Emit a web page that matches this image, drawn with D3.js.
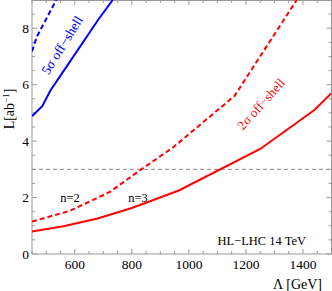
<!DOCTYPE html>
<html>
<head>
<meta charset="utf-8">
<script src="https://cdn.jsdelivr.net/npm/d3@7"></script>
<style>
  body { margin: 0; background: #fff; }
  svg { display: block; font-family: "Liberation Serif", "DejaVu Serif", serif; }
</style>
</head>
<body>
<script>
const width = 332;
const height = 291;
const margin = { top: 0, right: 0.5, bottom: 37, left: 32 };

// [Lambda (GeV), L (ab^-1)]
const red3 = [[450, 0.8], [560, 0.98], [680, 1.26], [800, 1.63], [965, 2.25], [1250, 3.72], [1440, 5.1], [1500, 5.7]];
const red2 = [[450, 1.15], [583, 1.53], [723, 2.2], [829, 2.97], [945, 3.78], [1160, 5.6], [1378, 9]];
const blue3 = [[450, 4.88], [486, 5.24], [515, 5.8], [570, 6.62], [682, 8.3], [733, 9]];
const blue2 = [[450, 7.18], [467, 7.7], [535, 9]];
const xTicks = [600, 800, 1000, 1200, 1400];
const yTicks = [0, 2, 4, 6, 8];
const refL = 3;

const x = d3.scaleLinear().domain([450, 1500]).range([margin.left, width - margin.right]);
const y = d3.scaleLinear().domain([0, 9]).range([height - margin.bottom, margin.top]);

const svg = d3.select("body").append("svg").attr("width", width).attr("height", height);

svg.append("defs").append("clipPath").attr("id", "clip")
  .append("rect")
  .attr("x", x.range()[0]).attr("y", y.range()[1])
  .attr("width", x.range()[1] - x.range()[0])
  .attr("height", y.range()[0] - y.range()[1]);

const frame = "#999";
const xMinor = d3.range(450, 1501, 50);
const yMinor = d3.range(0, 9.01, 0.5);

// ticks on all four sides, pointing inward
const tickG = svg.append("g").attr("stroke", frame).attr("stroke-width", 1);
xMinor.forEach((v) => {
  const len = xTicks.includes(v) ? 5 : 3;
  tickG.append("line").attr("x1", x(v)).attr("x2", x(v)).attr("y1", y(0)).attr("y2", y(0) - len);
  tickG.append("line").attr("x1", x(v)).attr("x2", x(v)).attr("y1", y(9)).attr("y2", y(9) + len);
});
yMinor.forEach((v) => {
  const len = yTicks.includes(v) ? 5 : 3;
  tickG.append("line").attr("y1", y(v)).attr("y2", y(v)).attr("x1", x(450)).attr("x2", x(450) + len);
  tickG.append("line").attr("y1", y(v)).attr("y2", y(v)).attr("x1", x(1500)).attr("x2", x(1500) - len);
});

svg.append("rect")
  .attr("x", x(450)).attr("y", y(9) + 0.5)
  .attr("width", x(1500) - x(450)).attr("height", y(0) - y(9) - 0.5)
  .attr("fill", "none").attr("stroke", frame);

svg.append("g").selectAll("text").data(xTicks).enter().append("text")
  .attr("x", (d) => x(d)).attr("y", y(0) + 15)
  .attr("text-anchor", "middle").style("font-size", "13.5px").text((d) => d);

svg.append("g").selectAll("text").data(yTicks).enter().append("text")
  .attr("x", x(450) - 3).attr("y", (d) => y(d) + 4.5)
  .attr("text-anchor", "end").style("font-size", "13.5px").text((d) => d);

svg.append("line")
  .attr("x1", x(450)).attr("x2", x(1500)).attr("y1", y(refL)).attr("y2", y(refL))
  .attr("stroke", "#888").attr("stroke-dasharray", "4,3");

const line = d3.line().x((d) => x(d[0])).y((d) => y(d[1]));
const curves = [
  { data: red3, color: "#f00", dash: null },
  { data: red2, color: "#f00", dash: "5,3" },
  { data: blue3, color: "#00f", dash: null },
  { data: blue2, color: "#00f", dash: "5,3" },
];
svg.append("g").attr("clip-path", "url(#clip)")
  .selectAll("path").data(curves).enter().append("path")
  .attr("d", (d) => line(d.data))
  .attr("fill", "none")
  .attr("stroke", (d) => d.color)
  .attr("stroke-width", 2)
  .attr("stroke-dasharray", (d) => d.dash);

svg.append("text").attr("transform", "translate(62,45) rotate(-58)")
  .attr("text-anchor", "middle").attr("dy", "0.35em").attr("fill", "#00f").style("font-size", "13.5px")
  .text("5σ off−shell");

svg.append("text").attr("transform", "translate(261,104) rotate(-48)")
  .attr("text-anchor", "middle").attr("dy", "0.35em").attr("fill", "#f00").style("font-size", "13px")
  .text("2σ off−shell");

svg.append("text").attr("x", 70).attr("y", 202).attr("text-anchor", "middle")
  .style("font-size", "12.5px").text("n=2");
svg.append("text").attr("x", 138).attr("y", 202).attr("text-anchor", "middle")
  .style("font-size", "12.5px").text("n=3");

svg.append("text").attr("x", 306).attr("y", 245).attr("text-anchor", "end")
  .style("font-size", "12.5px").text("HL−LHC 14 TeV");

svg.append("text").attr("x", 322).attr("y", 289).attr("text-anchor", "end")
  .style("font-size", "14px").text("Λ [GeV]");

const yl = svg.append("text").attr("transform", "translate(14,109) rotate(-90)")
  .attr("text-anchor", "middle").style("font-size", "14px");
yl.append("tspan").text("L[ab");
yl.append("tspan").attr("dy", -5).style("font-size", "9px").text("−1");
yl.append("tspan").attr("dy", 5).text("]");
</script>
</body>
</html>
